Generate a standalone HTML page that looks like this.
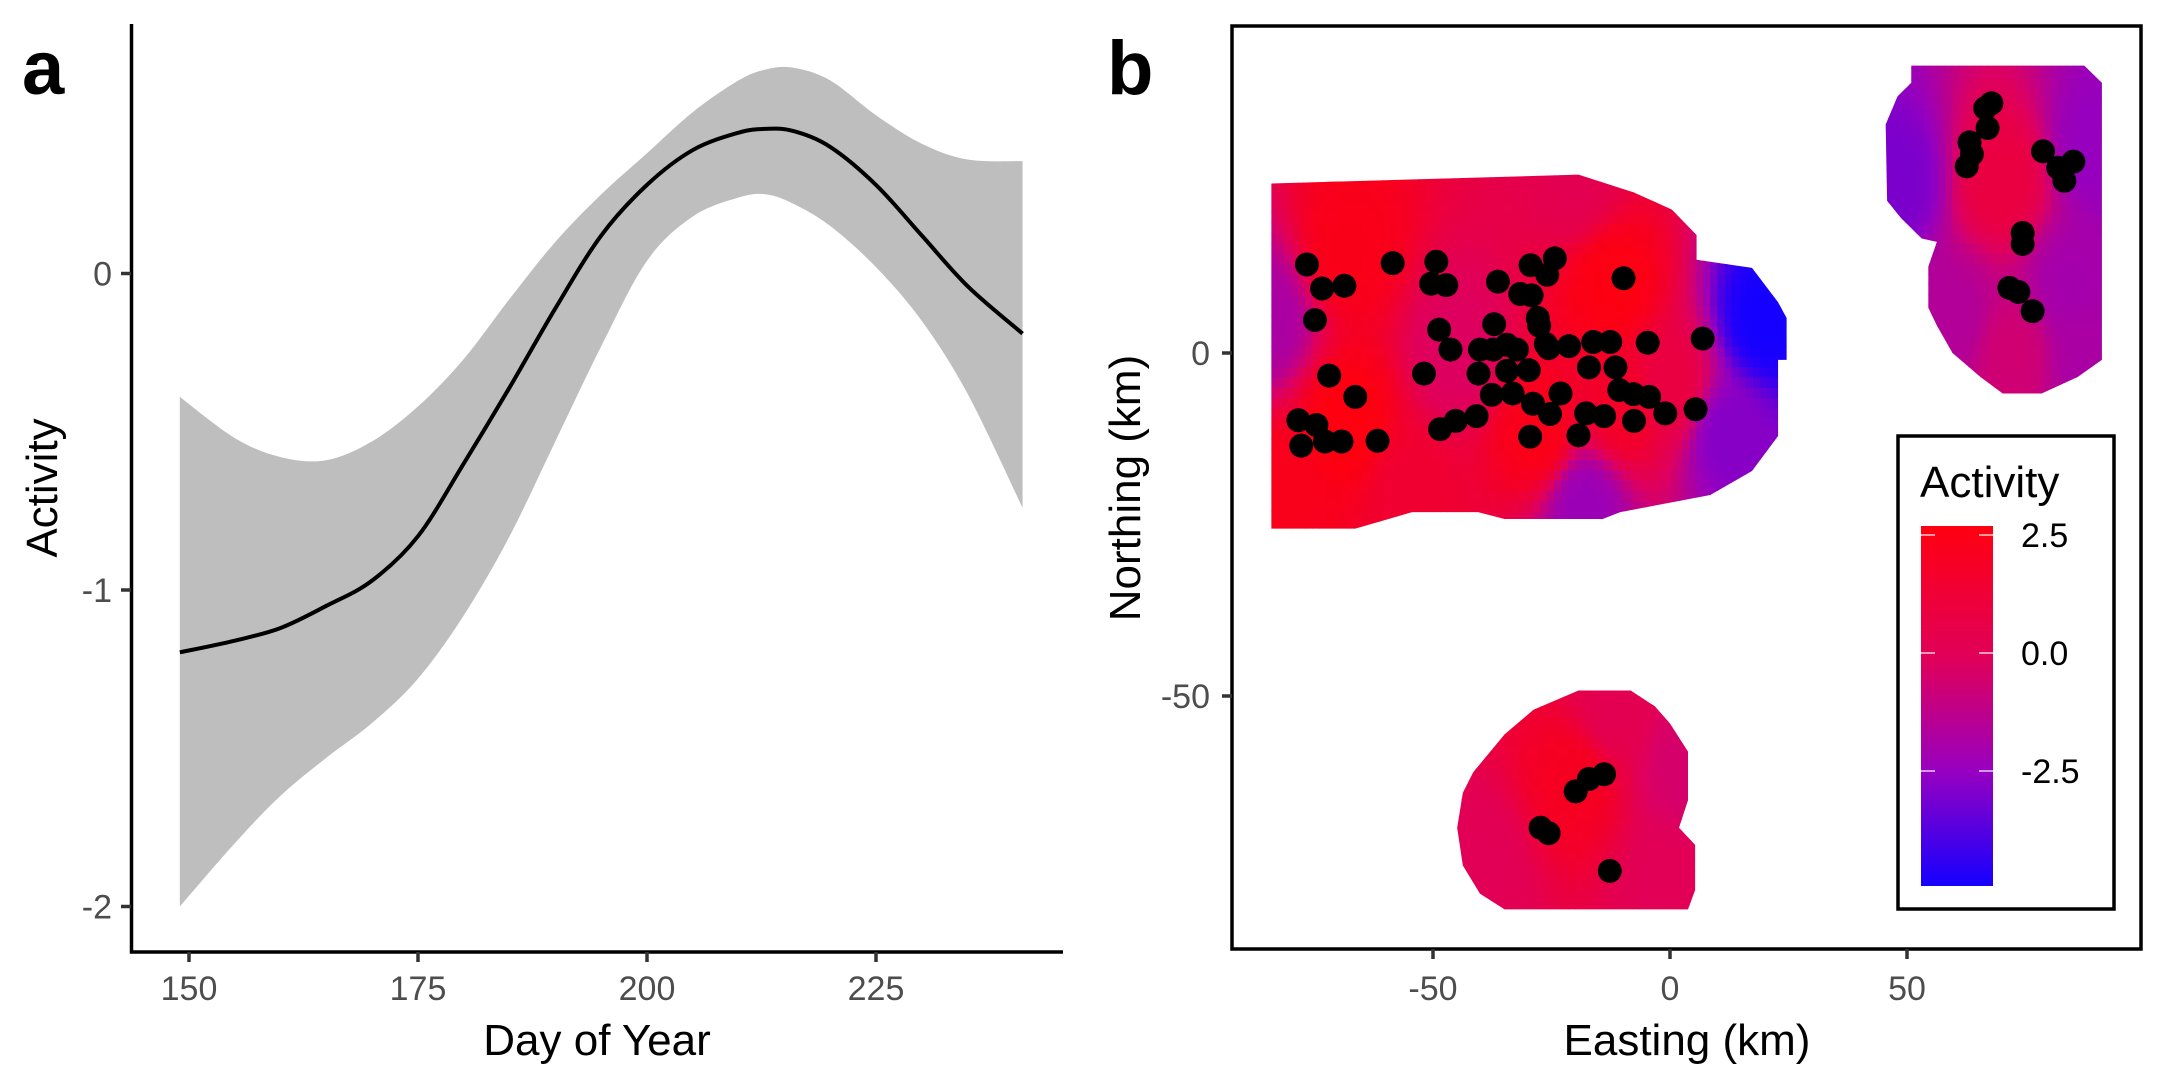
<!DOCTYPE html>
<html><head><meta charset="utf-8"><style>
body{margin:0;background:#fff}
svg text{font-family:"Liberation Sans",sans-serif}
.tk{font-size:34px;fill:#4d4d4d}
.tt{font-size:44px;fill:#000}
.pl{font-size:76px;font-weight:bold;fill:#000}
</style></head><body>
<svg id="fig" width="2160" height="1080" viewBox="0 0 2160 1080" xmlns="http://www.w3.org/2000/svg">
<defs>
<clipPath id="blobclip"></clipPath>
<linearGradient id="cbar" x1="0" y1="0" x2="0" y2="1">
<stop offset="0" stop-color="#ff0010"/><stop offset="0.37" stop-color="#e0005a"/>
<stop offset="0.68" stop-color="#9800c0"/><stop offset="1" stop-color="#1500ff"/>
</linearGradient>
</defs>
<g id="pa"></g>
<g id="pb"></g>
</svg>
<script>
// ---------- Panel a data ----------
const days = [149,155,160,165,170,175,180,185,190,195,200,205,210,213,216,220,225,230,235,241];
const fitVals = [-1.197,-1.16,-1.12,-1.05,-0.97,-0.83,-0.6,-0.36,-0.11,0.12,0.28,0.39,0.445,0.457,0.45,0.40,0.28,0.12,-0.04,-0.19];
const upperVals = [-0.39,-0.52,-0.58,-0.59,-0.53,-0.42,-0.27,-0.08,0.1,0.25,0.38,0.51,0.61,0.645,0.65,0.61,0.50,0.41,0.36,0.355];
const lowerVals = [-2.0,-1.8,-1.65,-1.53,-1.42,-1.28,-1.08,-0.83,-0.53,-0.23,0.04,0.18,0.24,0.25,0.22,0.15,0.02,-0.15,-0.38,-0.74];
const xTicksA = [150,175,200,225];
const yTicksA = [0,-1,-2];

// ---------- Panel b data ----------
const ptsE = [-76.6,-73.4,-68.7,-74.9,-71.9,-66.4,-78.4,-74.6,-77.8,-72.8,-69.3,-61.7,-58.5,-49.3,-50.4,-47.2,-48.7,-46.3,-51.9,-45.2,-48.5,-40.8,-40.4,-40.1,-37.1,-37.3,-36.3,-34.4,-32.3,-34.4,-37.6,-33.2,-29.8,-29.4,-25.9,-24.3,-31.6,-29.2,-27.9,-27.6,-26.2,-25.6,-21.3,-28.9,-25.3,-29.5,-23.1,-19.3,-17.7,-17.1,-16.2,-12.6,-9.8,-13.9,-11.5,-10.7,-7.7,-7.6,-4.4,-4.7,-1.0,5.4,6.9,
 67.8,66.5,67.0,63.2,63.7,62.6,78.7,81.9,83.2,85.1,74.4,74.4,71.6,73.5,76.5,
 -13.9,-17.1,-19.9,-27.3,-25.6,-12.7];
const ptsN = [12.9,9.4,9.8,4.8,-3.3,-6.4,-9.8,-10.5,-13.5,-12.9,-12.9,-12.8,13.1,13.3,10.1,9.9,3.4,0.5,-3.0,-9.9,-11.1,-9.2,-3.0,0.5,4.2,0.5,10.4,1.2,0.5,-2.6,-6.1,-5.9,-2.5,12.8,11.4,13.8,8.6,8.4,5.1,4.0,1.3,0.7,1.0,-7.4,-8.9,-12.2,-5.9,-12.0,-8.8,-2.1,1.6,1.6,10.9,-9.2,-2.1,-5.4,-6.0,-9.9,-6.4,1.5,-8.8,-8.2,2.1,
 36.4,35.7,32.8,30.7,29.0,27.2,29.4,27.0,25.1,27.9,17.5,15.9,9.5,8.9,6.1,
 -61.4,-62.1,-63.9,-69.2,-70.0,-75.5];
// activity field control points
const ctlE = [-85,-68,-68,-45,-28,-12,-18,-20,20,12,0,-55,-82,-10, 48,70,90,72,85,60,88, -20,-40,3,0,-12];
const ctlN = [5,-10,15,0,-12,10,-22,25,5,-12,-5,-20,-20,-8, 25,25,30,0,10,5,0, -62,-75,-60,-78,-52];
const ctlV = [-1.8,2.6,2.3,0,2.3,2.5,-2.3,0.5,-4.9,-2.8,1.0,1.5,2.2,1.8, -3,1,-2.5,-0.5,-2,-1.5,-1.8, 2.0,0.3,-0.3,0.3,0.5];
// survey region outlines (km)
const blobMainE = [-84.1,-19.3,-7.6,0.4,5.6,5.6,17.3,22.8,24.6,24.6,22.8,22.8,17.3,8.5,-10.5,-14.2,-34.9,-40.5,-54.4,-66.4,-84.1];
const blobMainN = [24.7,26.0,23.4,20.9,17.2,13.6,12.4,7.4,5.1,-1.0,-1.0,-12.1,-17.2,-20.7,-23.2,-24.2,-24.2,-23.2,-23.2,-25.6,-25.6];
const blobNEE = [50.9,87.4,91.1,91.1,86.0,78.4,70.2,65.5,59.6,56.3,54.5,54.5,56.3,53.1,48.7,45.8,45.5,48.0,50.9];
const blobNEN = [41.9,41.9,39.4,-1.0,-3.5,-5.9,-5.9,-3.5,0,4.0,6.6,12.6,16.2,16.7,19.7,22.2,33.3,37.4,39.4];
const blobSE = [-19.3,-8.3,-3.2,0,3.8,3.8,1.9,5.3,5.3,3.8,-34.9,-40.1,-43.7,-44.9,-43.7,-41.5,-34.9,-28.8];
const blobSN = [-49.2,-49.2,-51.5,-54.0,-58.1,-65.2,-69.2,-71.7,-78.3,-81.1,-81.1,-78.8,-74.7,-69.2,-64.1,-61.1,-55.6,-52.0];
const xTicksB = [-50,0,50];
const yTicksB = [0,-50];
const legTicks = [2.5,0.0,-2.5];

const NS="http://www.w3.org/2000/svg";
function mk(tag,attrs,parent){const e=document.createElementNS(NS,tag);for(const k in attrs)e.setAttribute(k,attrs[k]);parent.appendChild(e);return e;}
function txt(s,attrs,parent){const e=mk('text',attrs,parent);e.textContent=s;return e;}
function smooth(pts){let d='M'+pts[0][0]+','+pts[0][1];for(let i=0;i<pts.length-1;i++){const p0=pts[Math.max(0,i-1)],p1=pts[i],p2=pts[i+1],p3=pts[Math.min(pts.length-1,i+2)];
 const c1=[p1[0]+(p2[0]-p0[0])/6,p1[1]+(p2[1]-p0[1])/6],c2=[p2[0]-(p3[0]-p1[0])/6,p2[1]-(p3[1]-p1[1])/6];
 d+=`C${c1[0]},${c1[1]} ${c2[0]},${c2[1]} ${p2[0]},${p2[1]}`;}return d;}

// ---------- Panel a ----------
const pa=document.getElementById('pa');
const xA=d=>189+(d-150)*9.16, yA=v=>273.5-v*316.5;
const up=days.map((d,i)=>[xA(d),yA(upperVals[i])]);
const lo=days.map((d,i)=>[xA(d),yA(lowerVals[i])]).reverse();
let band=mk('path',{d:smooth(up)+smooth(lo).replace('M','L')+'Z',fill:'#bebebe'},pa);


let ln=mk('path',{d:smooth(days.map((d,i)=>[xA(d),yA(fitVals[i])])),fill:'none',stroke:'#000','stroke-width':4},pa);


let axa=mk('path',{d:'M131.5,24V952H1063',fill:'none',stroke:'#000','stroke-width':3.5},pa);


xTicksA.forEach(t=>{mk('line',{x1:xA(t),x2:xA(t),y1:952,y2:962,stroke:'#333','stroke-width':3.5},pa);
 const l=txt(t,{x:xA(t),y:1000,'text-anchor':'middle',class:'tk'},pa);
 
 });
yTicksA.forEach(t=>{mk('line',{x1:121,x2:131,y1:yA(t),y2:yA(t),stroke:'#333','stroke-width':3.5},pa);
 const l=txt(t,{x:112,y:yA(t)+12,'text-anchor':'end',class:'tk'},pa);
 
 });
txt('Day of Year',{x:597,y:1055,'text-anchor':'middle',class:'tt',},pa);
txt('Activity',{x:57,y:488,'text-anchor':'middle',class:'tt',transform:'rotate(-90 57 488)',},pa);
txt('a',{x:22,y:94,class:'pl',},pa);

// ---------- Panel b ----------
const pb=document.getElementById('pb');
const xB=e=>1670+e*4.74, yB=n=>353-n*6.86;
const clip=document.getElementById('blobclip');
[[blobMainE,blobMainN],[blobNEE,blobNEN],[blobSE,blobSN]].forEach(([E,N])=>{
 mk('polygon',{points:E.map((e,i)=>xB(e)+','+yB(N[i])).join(' ')},clip);});
const stops=[[-4.9,[21,0,255]],[-2.5,[150,0,190]],[0,[222,0,95]],[2.7,[255,0,12]]];
function col(v){v=Math.max(-4.9,Math.min(2.7,v));for(let i=0;i<stops.length-1;i++){const [a,ca]=stops[i],[b,cb]=stops[i+1];if(v<=b){const t=(v-a)/(b-a);return 'rgb('+ca.map((c,k)=>Math.round(c+(cb[k]-c)*t)).join(',')+')';}}return 'rgb(255,0,12)';}
function field(e,n){let s=0,w=0;for(let i=0;i<ctlE.length;i++){const d2=(e-ctlE[i])**2+(n-ctlN[i])**2+1;const ww=1/(d2*d2);s+=ww*ctlV[i];w+=ww;}return s/w;}
const hm=mk('g',{'clip-path':'url(#blobclip)'},pb);


const step=1.5;
for(let e=-86;e<93;e+=step){for(let n=-83;n<44;n+=step){
 const r=mk('rect',{x:xB(e).toFixed(1),y:yB(n+step).toFixed(1),width:(step*4.74+0.6).toFixed(1),height:(step*6.86+0.6).toFixed(1),fill:col(field(e+step/2,n+step/2))},hm);
 
 }}
const pg=mk('g',{},pb);


ptsE.forEach((e,i)=>{const c=mk('circle',{cx:xB(e),cy:yB(ptsN[i]),r:12,fill:'#000'},pg);
 
 });
let fr=mk('rect',{x:1232,y:26,width:909,height:923,fill:'none',stroke:'#000','stroke-width':3.5},pb);


xTicksB.forEach(t=>{mk('line',{x1:xB(t),x2:xB(t),y1:949,y2:959,stroke:'#333','stroke-width':3.5},pb);
 const l=txt(t,{x:xB(t),y:1000,'text-anchor':'middle',class:'tk'},pb);
 
 });
yTicksB.forEach(t=>{mk('line',{x1:1222,x2:1232,y1:yB(t),y2:yB(t),stroke:'#333','stroke-width':3.5},pb);
 const l=txt(t,{x:1210,y:yB(t)+12,'text-anchor':'end',class:'tk'},pb);
 
 });
txt('Easting (km)',{x:1687,y:1055,'text-anchor':'middle',class:'tt',},pb);
txt('Northing (km)',{x:1140,y:488,'text-anchor':'middle',class:'tt',transform:'rotate(-90 1140 488)',},pb);
txt('b',{x:1107,y:94,class:'pl',},pb);
// legend
const lg=mk('g',{},pb);


mk('rect',{x:1898,y:436,width:216,height:473,fill:'#fff',stroke:'#000','stroke-width':3.5},lg);
txt('Activity',{x:1920,y:497,class:'tt'},lg);
const cb=mk('rect',{x:1921,y:526,width:72,height:360,fill:'url(#cbar)'},lg);


const yL=v=>653-v*47.2;
legTicks.forEach(t=>{mk('line',{x1:1921,x2:1935,y1:yL(t),y2:yL(t),stroke:'#fff','stroke-width':1.5,opacity:0.8},lg);
 mk('line',{x1:1979,x2:1993,y1:yL(t),y2:yL(t),stroke:'#fff','stroke-width':1.5,opacity:0.8},lg);
 const l=txt(t.toFixed(1),{x:2021,y:yL(t)+12,class:'tk',style:'fill:#000'},lg);
 
 });
</script>
</body></html>
